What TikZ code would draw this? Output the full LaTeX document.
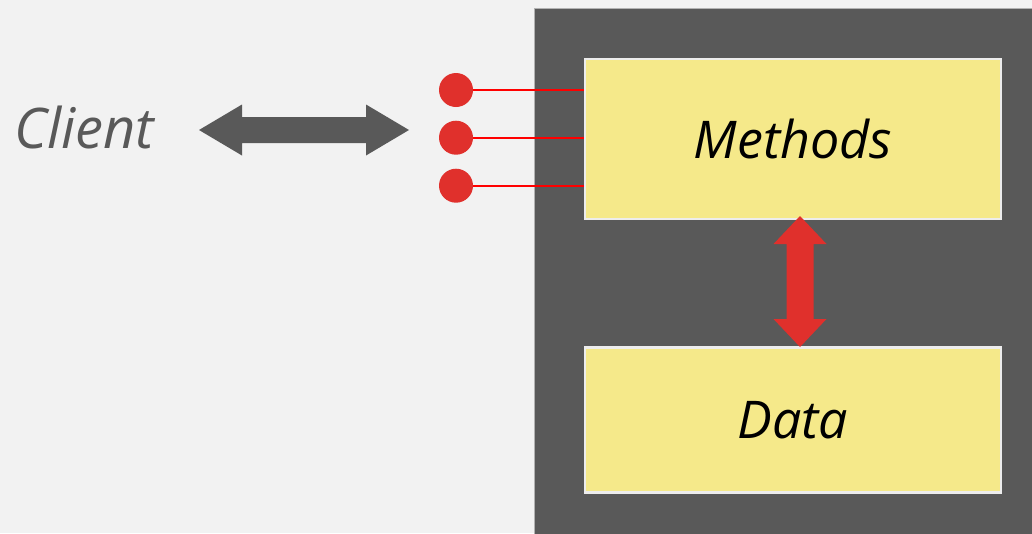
\documentclass[tikz,border=0pt]{standalone}
\usepackage{fontspec}
\setmainfont{Open Sans}
\usetikzlibrary{shapes.arrows}
\definecolor{bg}{HTML}{F2F2F2}
\definecolor{darkgray}{HTML}{595959}
\definecolor{boxyellow}{HTML}{F5E98A}
\definecolor{boxedge}{HTML}{EDEDED}
\definecolor{dotred}{HTML}{E0302C}
\definecolor{linered}{HTML}{FF0000}
\tikzset{
  yellowbox/.style={draw=boxedge, line width=2.5pt, fill=boxyellow, minimum width=416pt, anchor=north west, inner sep=0pt},
  dot/.style={circle, fill=dotred, minimum size=34pt, inner sep=0pt},
  wire/.style={draw=linered, line width=2.2pt},
  label/.style={font=\fontsize{52}{56}\selectfont\itshape}
}
\begin{document}
\begin{tikzpicture}[x=1pt,y=-1pt]
\useasboundingbox (0,0) rectangle (1032,533);
\fill[bg] (0,0) rectangle (1032,533);
\draw[fill=darkgray, draw=gray!60, line width=1pt] (534.5,8.5) rectangle (1040,540);
\node[yellowbox, minimum height=160pt] (methods) at (583.5,57.5) {};
\node[yellowbox, minimum height=145pt] (data) at (583.5,346) {};
\node[label, text=black] at (methods.center) {Methods};
\node[label, text=black] at (data.center) {Data};
\node[label, font=\fontsize{56}{60}\selectfont\itshape, text=darkgray, anchor=base west, inner sep=0pt] (client) at (14,148) {Client};
% client arrow
\fill[darkgray] (199,130) -- (242,104.5) -- (242,117) -- (366,117) -- (366,104.5) -- (409,130) -- (366,155.5) -- (366,143) -- (242,143) -- (242,155.5) -- cycle;
% red vertical arrow
\fill[dotred] (800,216) -- (826.5,244) -- (813.5,244) -- (813.5,319) -- (826.5,319) -- (800,347) -- (773.5,319) -- (786.5,319) -- (786.5,244) -- (773.5,244) -- cycle;
% dots
\foreach \y/\n in {90/d1,137.7/d2,185.7/d3}{
  \coordinate (w\n) at (methods.west |- 0,\y);
  \draw[wire] (456,\y) -- (w\n);
  \node[dot] (\n) at (456,\y) {};
}
\end{tikzpicture}
\end{document}
